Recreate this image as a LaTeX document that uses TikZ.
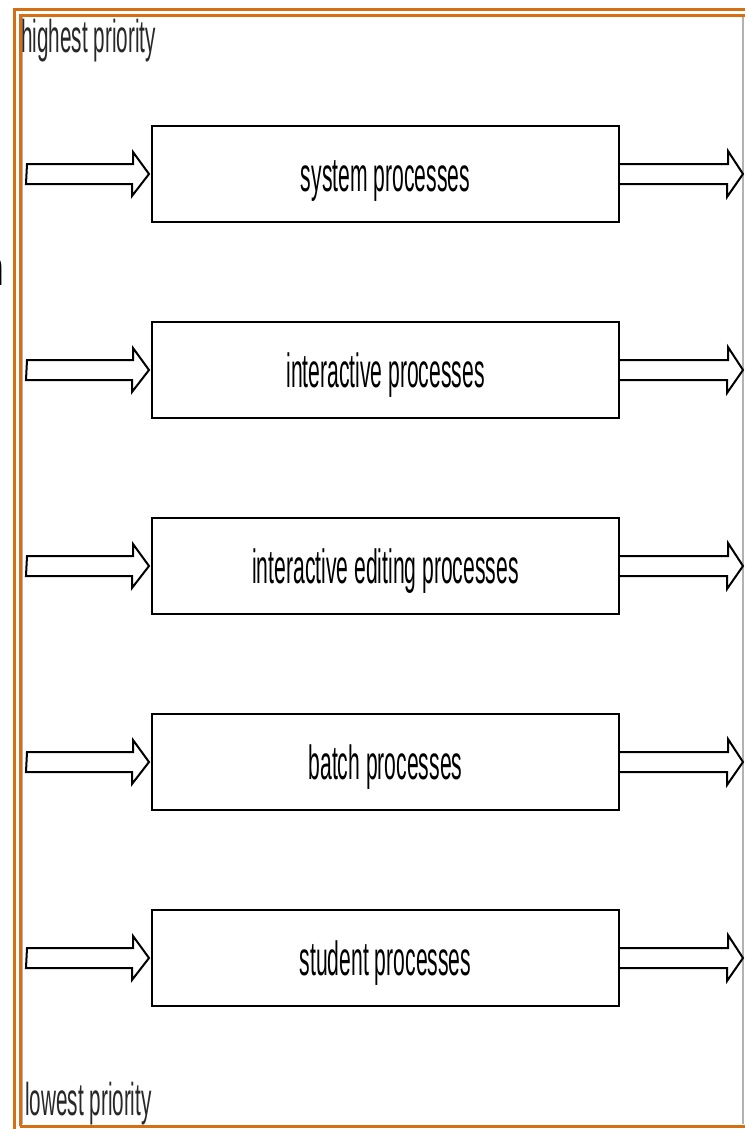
\documentclass[tikz,border=0pt]{standalone}
\usepackage{fontspec}
\newfontfamily\boxfont[FakeStretch=0.44]{Liberation Sans}
\newfontfamily\labelfont[FakeStretch=0.45]{Liberation Sans}
\definecolor{frameorange}{RGB}{214,110,20}
\definecolor{labelgray}{RGB}{40,40,40}
\tikzset{
  procbox/.style={draw=black, line width=2pt, rectangle, minimum width=467pt, minimum height=96pt, inner sep=0pt,
    text height=34pt, text depth=0pt, font=\boxfont\fontsize{48}{50}\selectfont},
  arrowline/.style={draw=black, line width=2pt, line join=miter},
  prio/.style={inner sep=0pt, text=labelgray, font=\labelfont\fontsize{46}{48}\selectfont},
  orangeline/.style={draw=frameorange, line width=3pt},
}
\begin{document}
\begin{tikzpicture}[x=1pt,y=-1pt]
\useasboundingbox (0,0) rectangle (744,1129);
\fill[white] (0,0) rectangle (744,1129);
% frame
\draw[orangeline] (14,1135) -- (14,10) -- (750,10);
\draw[orangeline] (20,1126) -- (20,15.5) -- (750,15.5);
\draw[orangeline] (20,1126) -- (750,1126);
\draw[gray!60, line width=1pt] (22.5,17) -- (22.5,1124);
\draw[gray!60, line width=1.5pt] (743.2,17) -- (743.2,1124);
% labels
\node[prio, anchor=base west] (hp) at (21,53) {highest priority};
\node[prio, anchor=base west] (lp) at (25,1115) {lowest priority};
\node[inner sep=0pt, anchor=base east, font=\boxfont\fontsize{48}{50}\selectfont] (frag) at (3.5,285) {n};
% boxes and arrows
\foreach \i/\yy/\txt in {1/174/system processes, 2/370/interactive processes, 3/566/interactive editing processes, 4/762/batch processes, 5/958/student processes}{
  \node[procbox] (b\i) at (385.5,\yy) {\txt};
  \coordinate (s\i) at (27,\yy);
  \coordinate (e\i) at (743,\yy);
  \draw[arrowline] (s\i) ++(0,-10) -- ++(106,0) -- ++(0,-12) -- ([xshift=-2pt]b\i.west) -- ++(-17,22) -- ++(0,-12) -- ++(-106,0) -- cycle;
  \draw[arrowline] ([yshift=10pt]b\i.east) -- ++(108,0) -- ++(0,-13) -- (e\i) -- ++(-16,23) -- ++(0,-13) -- ++(-108,0);
}
\end{tikzpicture}
\end{document}
